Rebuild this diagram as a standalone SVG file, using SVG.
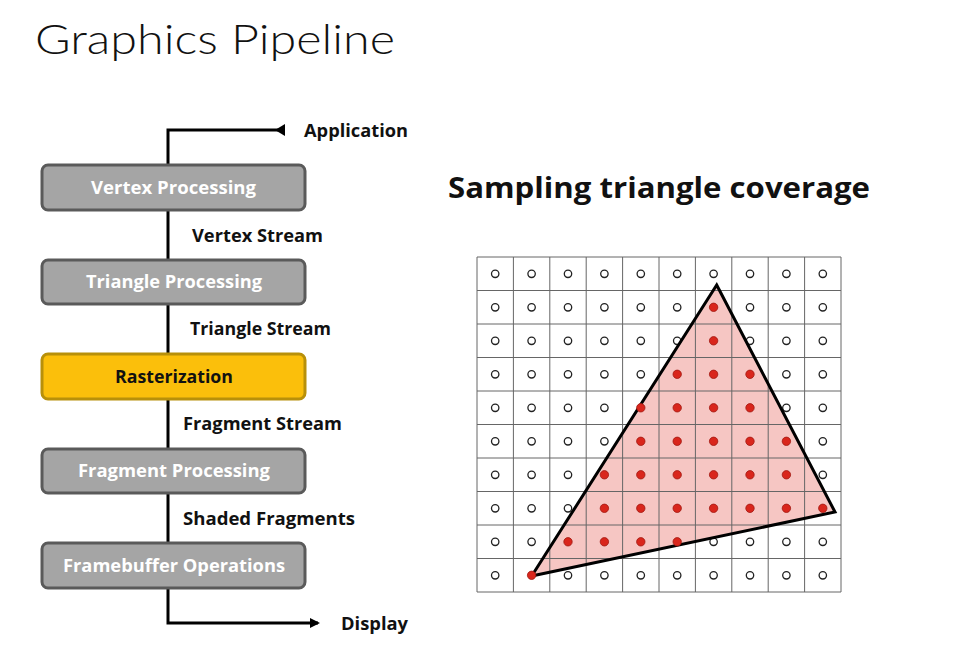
<svg xmlns="http://www.w3.org/2000/svg" width="955" height="671" viewBox="0 0 955 671">
<style>
.box{fill:#a5a5a5;stroke:#5a5a5a;stroke-width:3}
.ras{fill:#fbbf0b;stroke:#b8900a;stroke-width:3}
.bt{font-family:"Open Sans",Lato,sans-serif;font-weight:bold;font-size:17px;fill:#fff}
.lb{font-family:"Open Sans",Lato,sans-serif;font-weight:bold;font-size:17px;fill:#111}
.ln{stroke:#000;stroke-width:3;fill:none}
.g{stroke:#666;stroke-width:1;fill:none}
.o{fill:#fff;stroke:#222;stroke-width:1.3}
.f{fill:#d9261c;stroke:#a01810;stroke-width:0.8}
</style>
<defs>
<marker id="ah" markerWidth="10" markerHeight="10" refX="8" refY="5" orient="auto" markerUnits="userSpaceOnUse"><path d="M0,0L10,5L0,10z" fill="#000"/></marker>
</defs>
<rect width="955" height="671" fill="#fff"/>
<text x="35" y="54" font-family="Lato,'Open Sans',sans-serif" font-size="42" font-weight="300" fill="#111" textLength="360" lengthAdjust="spacingAndGlyphs">Graphics Pipeline</text>
<g id="connectors">
<path class="ln" d="M168,165V130H278"/>
<path d="M285,124L275,130L285,136z" fill="#000"/>
<path class="ln" d="M168,210V260M168,304V354M168,399V449M168,493V543"/>
<path class="ln" d="M168,588V623H318" marker-end="url(#ah)"/>
</g>
<g id="lbl-app"><text class="lb" x="304" y="137" textLength="104" lengthAdjust="spacingAndGlyphs">Application</text></g>
<g id="lbl-vs"><text class="lb" x="192" y="242" textLength="131" lengthAdjust="spacingAndGlyphs">Vertex Stream</text></g>
<g id="lbl-ts"><text class="lb" x="190" y="335" textLength="141" lengthAdjust="spacingAndGlyphs">Triangle Stream</text></g>
<g id="lbl-fs"><text class="lb" x="183" y="430" textLength="159" lengthAdjust="spacingAndGlyphs">Fragment Stream</text></g>
<g id="lbl-sf"><text class="lb" x="183" y="525" textLength="172" lengthAdjust="spacingAndGlyphs">Shaded Fragments</text></g>
<g id="lbl-disp"><text class="lb" x="341" y="630" textLength="67" lengthAdjust="spacingAndGlyphs">Display</text></g>
<g id="n-vertex"><rect class="box" x="42" y="165" width="263" height="45" rx="6"/><text class="bt" x="91" y="194" textLength="165" lengthAdjust="spacingAndGlyphs">Vertex Processing</text></g>
<g id="n-triangle"><rect class="box" x="42" y="260" width="263" height="44" rx="6"/><text class="bt" x="86" y="288" textLength="176" lengthAdjust="spacingAndGlyphs">Triangle Processing</text></g>
<g id="n-raster"><rect class="ras" x="42" y="354" width="263" height="45" rx="6"/><text class="bt" x="115" y="383" style="fill:#111" textLength="118" lengthAdjust="spacingAndGlyphs">Rasterization</text></g>
<g id="n-fragment"><rect class="box" x="42" y="449" width="263" height="44" rx="6"/><text class="bt" x="78" y="477" textLength="192" lengthAdjust="spacingAndGlyphs">Fragment Processing</text></g>
<g id="n-frame"><rect class="box" x="42" y="543" width="263" height="45" rx="6"/><text class="bt" x="63" y="572" textLength="222" lengthAdjust="spacingAndGlyphs">Framebuffer Operations</text></g>
<g id="sampling">
<text x="448" y="198" font-family="'Open Sans',Lato,sans-serif" font-size="29" font-weight="bold" fill="#111" textLength="422" lengthAdjust="spacingAndGlyphs">Sampling triangle coverage</text>
<polygon points="716.7,285 835,512 531.7,576" fill="#f6c6c3"/>
<path class="g" d="M477,257H841M477,290.5H841M477,324H841M477,357.5H841M477,391H841M477,424.5H841M477,458H841M477,491.5H841M477,525H841M477,558.5H841M477,592H841M477,257V592M513.4,257V592M549.8,257V592M586.2,257V592M622.6,257V592M659,257V592M695.4,257V592M731.8,257V592M768.2,257V592M804.6,257V592M841,257V592"/>
<g id="samples">
<g class="o">
<circle cx="495.2" cy="273.8" r="3.7"/><circle cx="531.6" cy="273.8" r="3.7"/><circle cx="568" cy="273.8" r="3.7"/><circle cx="604.4" cy="273.8" r="3.7"/><circle cx="640.8" cy="273.8" r="3.7"/><circle cx="677.2" cy="273.8" r="3.7"/><circle cx="713.6" cy="273.8" r="3.7"/><circle cx="750" cy="273.8" r="3.7"/><circle cx="786.4" cy="273.8" r="3.7"/><circle cx="822.8" cy="273.8" r="3.7"/>
<circle cx="495.2" cy="307.3" r="3.7"/><circle cx="531.6" cy="307.3" r="3.7"/><circle cx="568" cy="307.3" r="3.7"/><circle cx="604.4" cy="307.3" r="3.7"/><circle cx="640.8" cy="307.3" r="3.7"/><circle cx="677.2" cy="307.3" r="3.7"/><circle cx="750" cy="307.3" r="3.7"/><circle cx="786.4" cy="307.3" r="3.7"/><circle cx="822.8" cy="307.3" r="3.7"/>
<circle cx="495.2" cy="340.8" r="3.7"/><circle cx="531.6" cy="340.8" r="3.7"/><circle cx="568" cy="340.8" r="3.7"/><circle cx="604.4" cy="340.8" r="3.7"/><circle cx="640.8" cy="340.8" r="3.7"/><circle cx="677.2" cy="340.8" r="3.7"/><circle cx="750" cy="340.8" r="3.7"/><circle cx="786.4" cy="340.8" r="3.7"/><circle cx="822.8" cy="340.8" r="3.7"/>
<circle cx="495.2" cy="374.3" r="3.7"/><circle cx="531.6" cy="374.3" r="3.7"/><circle cx="568" cy="374.3" r="3.7"/><circle cx="604.4" cy="374.3" r="3.7"/><circle cx="640.8" cy="374.3" r="3.7"/><circle cx="786.4" cy="374.3" r="3.7"/><circle cx="822.8" cy="374.3" r="3.7"/>
<circle cx="495.2" cy="407.8" r="3.7"/><circle cx="531.6" cy="407.8" r="3.7"/><circle cx="568" cy="407.8" r="3.7"/><circle cx="604.4" cy="407.8" r="3.7"/><circle cx="786.4" cy="407.8" r="3.7"/><circle cx="822.8" cy="407.8" r="3.7"/>
<circle cx="495.2" cy="441.3" r="3.7"/><circle cx="531.6" cy="441.3" r="3.7"/><circle cx="568" cy="441.3" r="3.7"/><circle cx="604.4" cy="441.3" r="3.7"/><circle cx="822.8" cy="441.3" r="3.7"/>
<circle cx="495.2" cy="474.8" r="3.7"/><circle cx="531.6" cy="474.8" r="3.7"/><circle cx="568" cy="474.8" r="3.7"/><circle cx="822.8" cy="474.8" r="3.7"/>
<circle cx="495.2" cy="508.3" r="3.7"/><circle cx="531.6" cy="508.3" r="3.7"/><circle cx="568" cy="508.3" r="3.7"/>
<circle cx="495.2" cy="541.8" r="3.7"/><circle cx="531.6" cy="541.8" r="3.7"/><circle cx="713.6" cy="541.8" r="3.7"/><circle cx="750" cy="541.8" r="3.7"/><circle cx="786.4" cy="541.8" r="3.7"/><circle cx="822.8" cy="541.8" r="3.7"/>
<circle cx="495.2" cy="575.3" r="3.7"/><circle cx="568" cy="575.3" r="3.7"/><circle cx="604.4" cy="575.3" r="3.7"/><circle cx="640.8" cy="575.3" r="3.7"/><circle cx="677.2" cy="575.3" r="3.7"/><circle cx="713.6" cy="575.3" r="3.7"/><circle cx="750" cy="575.3" r="3.7"/><circle cx="786.4" cy="575.3" r="3.7"/><circle cx="822.8" cy="575.3" r="3.7"/>
</g>
<polygon points="716.7,285 835,512 531.7,576" fill="none" stroke="#000" stroke-width="3" stroke-linejoin="miter"/>
<g class="f">
<circle cx="713.6" cy="307.3" r="4.2"/>
<circle cx="713.6" cy="340.8" r="4.2"/>
<circle cx="677.2" cy="374.3" r="4.2"/><circle cx="713.6" cy="374.3" r="4.2"/><circle cx="750" cy="374.3" r="4.2"/>
<circle cx="640.8" cy="407.8" r="4.2"/><circle cx="677.2" cy="407.8" r="4.2"/><circle cx="713.6" cy="407.8" r="4.2"/><circle cx="750" cy="407.8" r="4.2"/>
<circle cx="640.8" cy="441.3" r="4.2"/><circle cx="677.2" cy="441.3" r="4.2"/><circle cx="713.6" cy="441.3" r="4.2"/><circle cx="750" cy="441.3" r="4.2"/><circle cx="786.4" cy="441.3" r="4.2"/>
<circle cx="604.4" cy="474.8" r="4.2"/><circle cx="640.8" cy="474.8" r="4.2"/><circle cx="677.2" cy="474.8" r="4.2"/><circle cx="713.6" cy="474.8" r="4.2"/><circle cx="750" cy="474.8" r="4.2"/><circle cx="786.4" cy="474.8" r="4.2"/>
<circle cx="604.4" cy="508.3" r="4.2"/><circle cx="640.8" cy="508.3" r="4.2"/><circle cx="677.2" cy="508.3" r="4.2"/><circle cx="713.6" cy="508.3" r="4.2"/><circle cx="750" cy="508.3" r="4.2"/><circle cx="786.4" cy="508.3" r="4.2"/><circle cx="822.8" cy="508.3" r="4.2"/>
<circle cx="568" cy="541.8" r="4.2"/><circle cx="604.4" cy="541.8" r="4.2"/><circle cx="640.8" cy="541.8" r="4.2"/><circle cx="677.2" cy="541.8" r="4.2"/>
<circle cx="531.6" cy="575.3" r="4.2"/>
</g>
</g>
</g>
</svg>
